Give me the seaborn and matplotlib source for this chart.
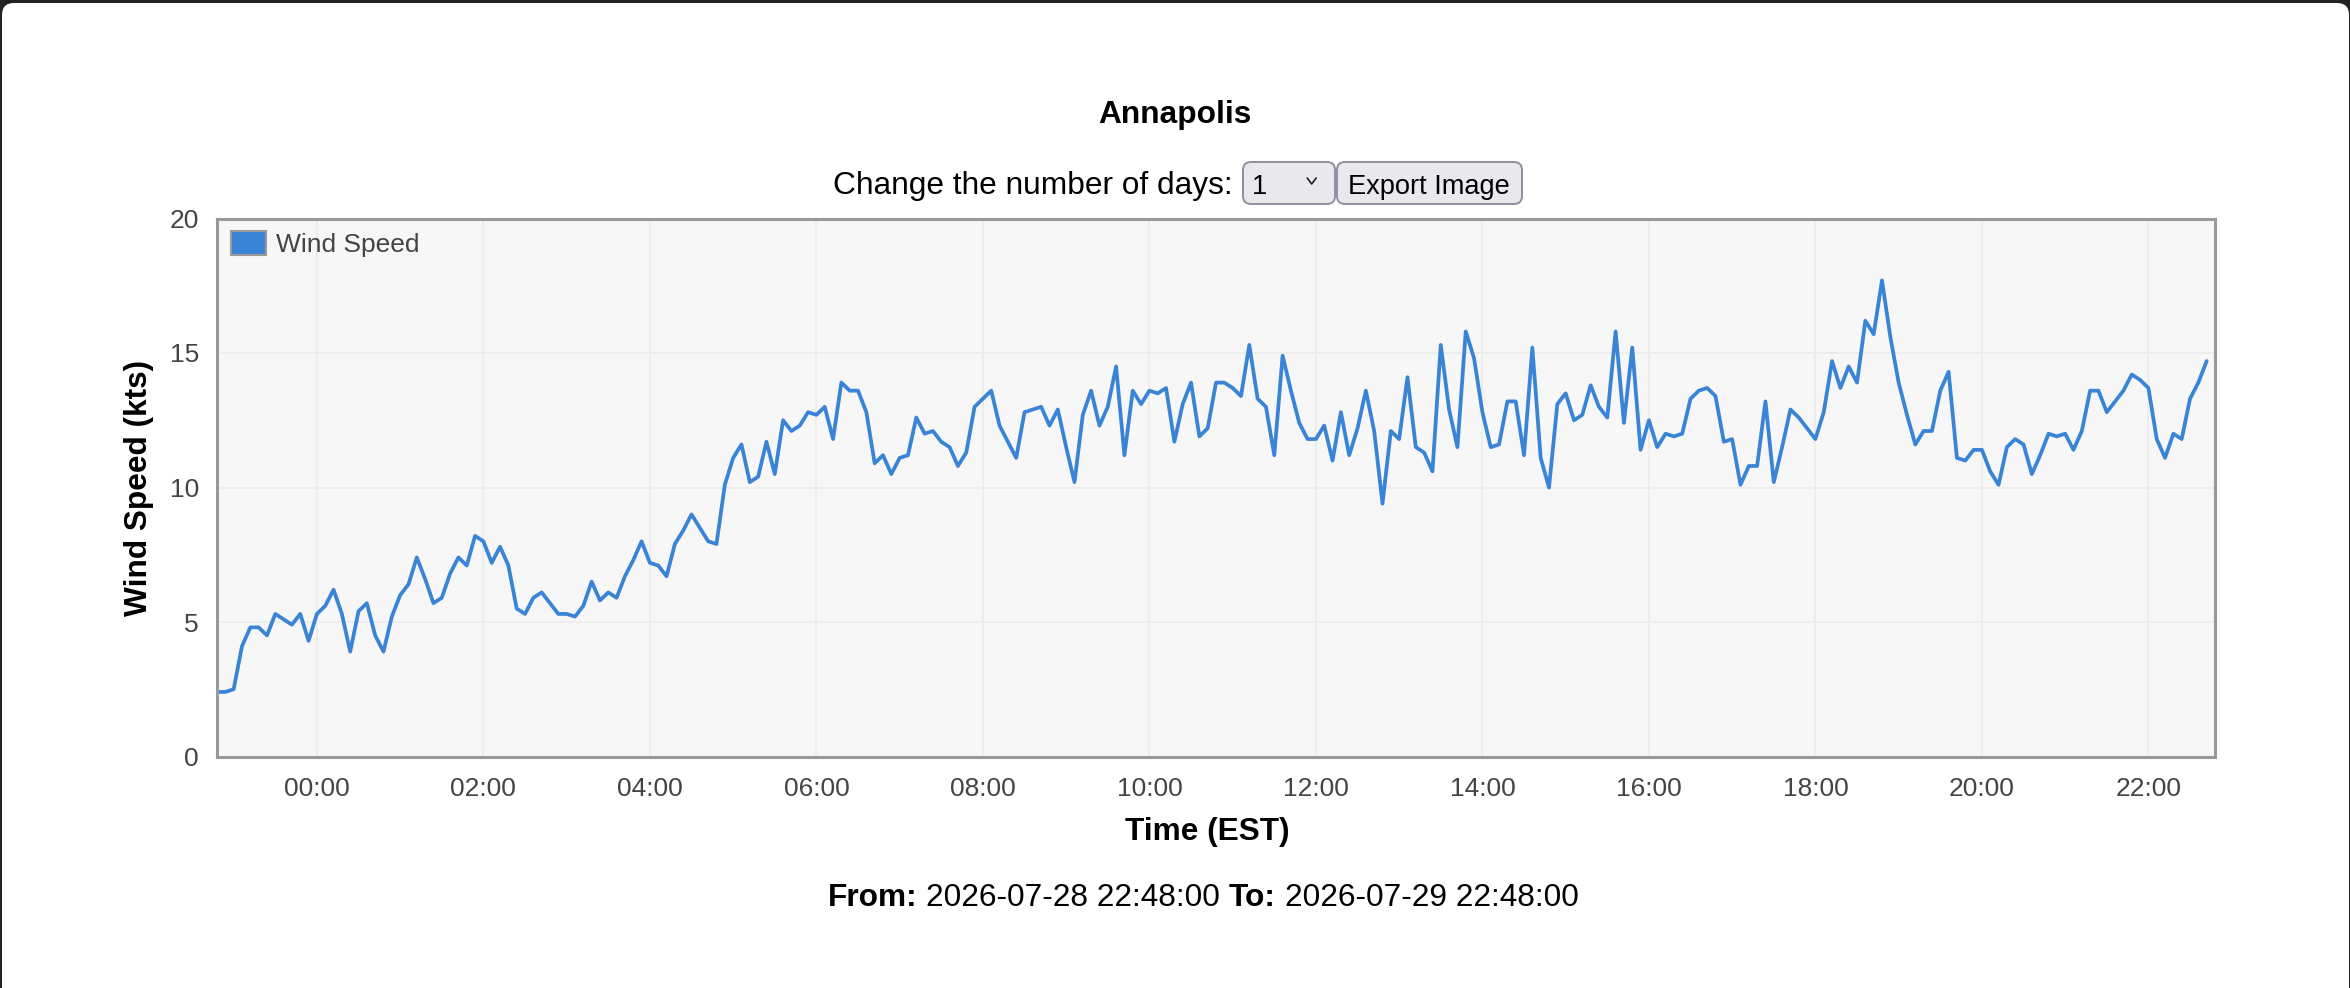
import pandas as pd
import seaborn as sns
import matplotlib.pyplot as plt
import matplotlib.dates as mdates
from matplotlib.ticker import MultipleLocator
from matplotlib.patches import FancyBboxPatch, Patch
from matplotlib.lines import Line2D

# Wind speed (kts), one reading every 6 minutes from 22:48
start_time = '2026-07-28 22:48:00'
end_time = '2026-07-29 22:48:00'
step = '6min'

overnight = [2.4, 2.4, 2.5, 4.1, 4.8, 4.8, 4.5, 5.3, 5.1, 4.9,
             5.3, 4.3, 5.3, 5.6, 6.2, 5.3, 3.9, 5.4, 5.7, 4.5,
             3.9, 5.2, 6.0, 6.4, 7.4, 6.6, 5.7, 5.9, 6.8, 7.4,
             7.1, 8.2, 8.0, 7.2, 7.8, 7.1, 5.5, 5.3, 5.9, 6.1,
             5.7, 5.3, 5.3, 5.2, 5.6, 6.5, 5.8, 6.1, 5.9, 6.7,
             7.3, 8.0, 7.2, 7.1, 6.7, 7.9, 8.4, 9.0, 8.5, 8.0]
morning = [7.9, 10.1, 11.1, 11.6, 10.2, 10.4, 11.7, 10.5, 12.5, 12.1,
           12.3, 12.8, 12.7, 13.0, 11.8, 13.9, 13.6, 13.6, 12.8, 10.9,
           11.2, 10.5, 11.1, 11.2, 12.6, 12.0, 12.1, 11.7, 11.5, 10.8,
           11.3, 13.0, 13.3, 13.6, 12.3, 11.7, 11.1, 12.8, 12.9, 13.0,
           12.3, 12.9, 11.5, 10.2, 12.7, 13.6, 12.3, 13.0, 14.5, 11.2,
           13.6, 13.1, 13.6, 13.5, 13.7, 11.7, 13.1, 13.9, 11.9, 12.2]
afternoon = [13.9, 13.9, 13.7, 13.4, 15.3, 13.3, 13.0, 11.2, 14.9, 13.6,
             12.4, 11.8, 11.8, 12.3, 11.0, 12.8, 11.2, 12.2, 13.6, 12.1,
             9.4, 12.1, 11.8, 14.1, 11.5, 11.3, 10.6, 15.3, 12.9, 11.5,
             15.8, 14.8, 12.8, 11.5, 11.6, 13.2, 13.2, 11.2, 15.2, 11.1,
             10.0, 13.1, 13.5, 12.5, 12.7, 13.8, 13.0, 12.6, 15.8, 12.4,
             15.2, 11.4, 12.5, 11.5, 12.0, 11.9, 12.0, 13.3, 13.6, 13.7]
evening = [13.4, 11.7, 11.8, 10.1, 10.8, 10.8, 13.2, 10.2, 11.5, 12.9,
           12.6, 12.2, 11.8, 12.8, 14.7, 13.7, 14.5, 13.9, 16.2, 15.7,
           17.7, 15.6, 13.9, 12.7, 11.6, 12.1, 12.1, 13.6, 14.3, 11.1,
           11.0, 11.4, 11.4, 10.6, 10.1, 11.5, 11.8, 11.6, 10.5, 11.2,
           12.0, 11.9, 12.0, 11.4, 12.1, 13.6, 13.6, 12.8, 13.2, 13.6,
           14.2, 14.0, 13.7, 11.8, 11.1, 12.0, 11.8, 13.3, 13.9, 14.7]

speeds = overnight + morning + afternoon + evening
times = pd.date_range(start_time, periods=len(speeds), freq=step)
df = pd.DataFrame({'Time': times, 'Wind Speed': speeds})

LINE = '#3a84d8'
W, H = 2350, 988

sns.set_style('whitegrid')
plt.rcParams['font.family'] = ['Liberation Sans', 'DejaVu Sans']
plt.rcParams['text.color'] = 'black'

fig = plt.figure(figsize=(W / 100, H / 100), dpi=100, facecolor='#222222')
inch = fig.dpi_scale_trans

# white page with rounded top corners inside the dark window frame
page = FancyBboxPatch((0.02, -0.5), 23.47, 9.85 + 0.5,
                      boxstyle='round,pad=0,rounding_size=0.12',
                      transform=inch, facecolor='white', edgecolor='none', zorder=0)
fig.add_artist(page)

ax = fig.add_axes([217 / W, 1 - 756.5 / H, 1998 / W, 538 / H])
ax.set_facecolor('#f7f7f7')
sns.lineplot(data=df, x='Time', y='Wind Speed', ax=ax, color=LINE, linewidth=2.7)

ax.set_xlim(pd.Timestamp(start_time), pd.Timestamp(end_time))
ax.set_ylim(0, 20)
ax.yaxis.set_major_locator(MultipleLocator(5))
ax.xaxis.set_major_locator(mdates.HourLocator(byhour=range(0, 24, 2)))
ax.xaxis.set_major_formatter(mdates.DateFormatter('%H:%M'))
ax.grid(True, color='#ededed', linewidth=1.4)
for s in ax.spines.values():
    s.set_color('#999999')
    s.set_linewidth(2.2)
ax.tick_params(axis='both', length=0, labelsize=19, labelcolor='#444444')
ax.tick_params(axis='x', pad=14.5)
ax.tick_params(axis='y', pad=13)
ax.set_xlabel('')
ax.set_ylabel('')

handle = Patch(facecolor=LINE, edgecolor='#999999', linewidth=1.5)
leg = ax.legend([handle], ['Wind Speed'], loc='upper left',
                bbox_to_anchor=(0.0069, 0.976), frameon=False, fontsize=19,
                handlelength=1.33, handleheight=1.0, handletextpad=0.4,
                borderpad=0, borderaxespad=0)
for t in leg.get_texts():
    t.set_color('#444444')

# page texts
fig.text(1175 / W, 1 - 123 / H, 'Annapolis', ha='center', va='baseline',
         fontsize=22.8, fontweight='bold')
fig.text(1233 / W, 1 - 194 / H, 'Change the number of days:', ha='right',
         va='baseline', fontsize=22.75)

for x0, w in [(12.43, 0.92), (13.37, 1.85)]:
    fig.add_artist(FancyBboxPatch((x0, 7.84), w, 0.42,
                                  boxstyle='round,pad=0,rounding_size=0.08',
                                  transform=inch, facecolor='#e9e9ed',
                                  edgecolor='#8f8f9d', linewidth=1.4))
fig.text(1252 / W, 1 - 194 / H, '1', ha='left', va='baseline', fontsize=19.6)
fig.add_artist(Line2D([13.072, 13.117, 13.162], [8.10, 8.04, 8.10],
                      transform=inch, color='#222222', linewidth=1.2))
fig.text(1429 / W, 1 - 194 / H, 'Export Image', ha='center', va='baseline',
         fontsize=19.6)

fig.text(1207 / W, 1 - 840 / H, 'Time (EST)', ha='center', va='baseline',
         fontsize=22.75, fontweight='bold')
fig.text(139 / W, 1 - 487.5 / H, 'Wind Speed (kts)', ha='center', va='center',
         rotation=90, fontsize=22.75, fontweight='bold')

# "From: ... To: ..." line with mixed weights
renderer = fig.canvas.get_renderer()
x = 828
for s, weight in [('From:', 'bold'), (start_time, 'normal'),
                  ('To:', 'bold'), (end_time, 'normal')]:
    t = fig.text(x / W, 1 - 906 / H, s, ha='left', va='baseline',
                 fontsize=22.75, fontweight=weight)
    x += t.get_window_extent(renderer).width + 8.8

fig.savefig('out.png', dpi=100, facecolor=fig.get_facecolor())
